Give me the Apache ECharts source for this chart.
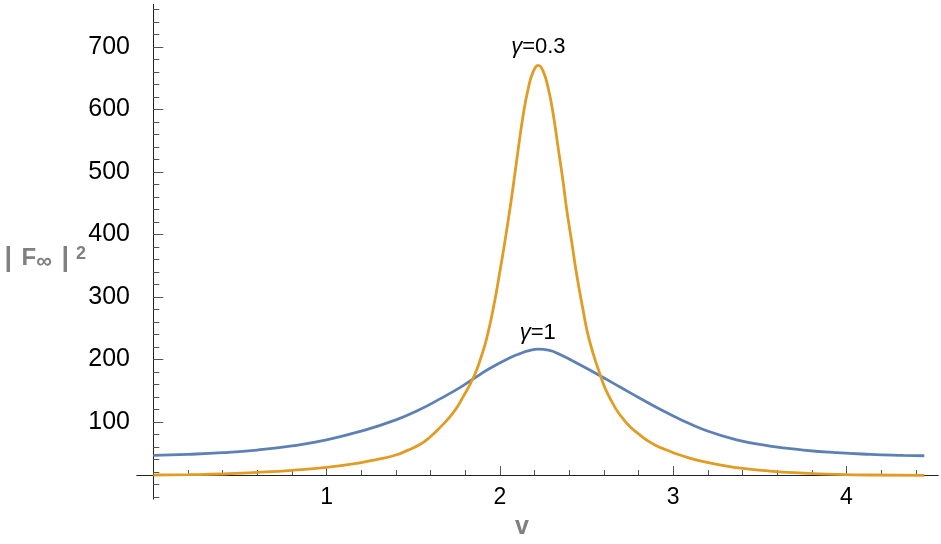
<!DOCTYPE html>
<html>
<head>
<meta charset="utf-8">
<script src="https://cdn.jsdelivr.net/npm/echarts@6/dist/echarts.min.js"></script>
<style>
  html, body { margin: 0; padding: 0; background: #fff; }
  #chart { width: 941px; height: 544px; }
</style>
</head>
<body>
<div id="chart"></div>
<script>
// γ = 1 curve (blue)
const blueV = [0, 0.2, 0.4, 0.6, 0.8, 1.0, 1.2, 1.4, 1.538, 1.654, 1.769, 1.852, 1.943, 2.058, 2.116, 2.174, 2.222, 2.28, 2.347, 2.462, 2.578, 2.693, 2.808, 2.924, 3.039, 3.174, 3.366, 3.558, 3.751, 3.943, 4.136, 4.328, 4.449];
const blueF = [46.7, 48.3, 50.9, 55.2, 61.8, 71.5, 85.5, 103.5, 120, 137, 155, 170, 186, 203, 209.5, 214.5, 216.5, 215, 208, 191.5, 174, 156, 138, 120.5, 104.5, 88, 71.5, 61.6, 55.2, 50.9, 48.3, 46.7, 46];

// γ = 0.3 curve (orange)
const orangeV = [0, 0.2, 0.4, 0.6, 0.8, 1.0, 1.2, 1.3, 1.4, 1.47, 1.538, 1.597, 1.654, 1.731, 1.789, 1.852, 1.894, 1.924, 1.962, 1.997, 2.029, 2.058, 2.083, 2.106, 2.135, 2.164, 2.193, 2.222, 2.25, 2.279, 2.308, 2.337, 2.362, 2.385, 2.414, 2.443, 2.478, 2.516, 2.578, 2.616, 2.674, 2.71, 2.751, 2.8, 2.847, 2.9, 2.962, 3.039, 3.174, 3.366, 3.558, 3.751, 3.943, 4.136, 4.449];
const orangeF = [15.2, 15.7, 16.8, 19.4, 22.8, 27.6, 35.2, 40.5, 47.2, 55, 64, 76, 91, 115, 141, 174, 206, 234, 282, 336, 389, 441, 490, 537, 592, 634, 661, 670.5, 661, 634, 592, 537, 490, 441, 389, 336, 282, 231, 176, 148.5, 119, 105.5, 92.5, 81, 71.2, 62.5, 55.2, 47.2, 36.5, 27, 21.6, 18.4, 16.3, 15.2, 14.7];

// ticks
const xMajorTicks = [1, 2, 3, 4];
const xMinorTicks = [0.2, 0.4, 0.6, 0.8, 1.2, 1.4, 1.6, 1.8, 2.2, 2.4, 2.6, 2.8, 3.2, 3.4, 3.6, 3.8, 4.2, 4.4];
const yMajorTicks = [100, 200, 300, 400, 500, 600, 700];
const yMinorTicks = [-20, 0, 20, 40, 60, 80, 120, 140, 160, 180, 220, 240, 260, 280, 320, 340, 360, 380, 420, 440, 460, 480, 520, 540, 560, 580, 620, 640, 660, 680, 720, 740, 760];

const FONT = "'Liberation Sans', Arial, sans-serif";
const X_MIN = -0.094, X_MAX = 4.528;
const Y_MIN = -23, Y_MAX = 768;
const GREY = '#808080';

const pairs = (xs, ys) => xs.map((x, i) => [x, ys[i]]);

const chart = echarts.init(document.getElementById('chart'));

const xAxisBase = {
  type: 'value',
  min: X_MIN,
  max: X_MAX,
  position: 'bottom',
  offset: -23.9,
  splitLine: { show: false },
  axisLine: { onZero: false, lineStyle: { color: '#222', width: 1 } }
};
const yAxisBase = {
  type: 'value',
  min: Y_MIN,
  max: Y_MAX,
  position: 'left',
  splitLine: { show: false },
  axisLine: { onZero: true, lineStyle: { color: '#222', width: 1 } }
};

const gammaLabel = (txt) => ({
  show: true,
  position: 'inside',
  formatter: '{i|γ}{n|' + txt + '}',
  rich: {
    i: { fontStyle: 'italic', fontSize: 22, color: '#000', fontFamily: FONT },
    n: { fontSize: 22, color: '#000', fontFamily: FONT }
  }
});

const option = {
  animation: false,
  backgroundColor: '#fff',
  grid: { left: 137, right: 3, top: 4.5, bottom: 45.1, containLabel: false, outerBoundsMode: 'none' },
  xAxis: [
    Object.assign({}, xAxisBase, {
      axisTick: { inside: true, length: 9, customValues: xMajorTicks, lineStyle: { color: '#555' } },
      axisLabel: { customValues: xMajorTicks, color: '#000', fontSize: 23, fontFamily: FONT, margin: 11 },
      name: 'v',
      nameLocation: 'middle',
      nameGap: 40,
      nameTextStyle: { color: GREY, fontWeight: 'bold', fontSize: 25, fontFamily: FONT, padding: [0, 31, 0, 0] }
    }),
    Object.assign({}, xAxisBase, {
      axisTick: { inside: true, length: 5, customValues: xMinorTicks, lineStyle: { color: '#555' } },
      axisLabel: { show: false }
    })
  ],
  yAxis: [
    Object.assign({}, yAxisBase, {
      axisTick: { inside: true, length: 10, customValues: yMajorTicks, lineStyle: { color: '#555' } },
      axisLabel: { customValues: yMajorTicks, color: '#000', fontSize: 25, fontFamily: FONT, margin: 7 },
      name: '{bar|| }{f|F}{s|∞}{bar| |}{p|2}',
      nameLocation: 'middle',
      nameRotate: 0,
      nameGap: 51,
      nameMoveOverlap: false,
      nameTextStyle: {
        align: 'right',
        verticalAlign: 'middle',
        padding: [14, 0, 0, 0],
        rich: {
          bar: { color: GREY, fontWeight: 'bold', fontSize: 27, fontFamily: FONT, lineHeight: 28, verticalAlign: 'middle', padding: [0, 2, 0, 2] },
          f: { color: GREY, fontWeight: 'bold', fontSize: 24, fontFamily: FONT, lineHeight: 28, verticalAlign: 'middle' },
          s: { color: GREY, fontWeight: 'bold', fontSize: 22, fontFamily: FONT, lineHeight: 17, verticalAlign: 'bottom' },
          p: { color: GREY, fontWeight: 'bold', fontSize: 18, fontFamily: FONT, lineHeight: 14, verticalAlign: 'top', padding: [0, 0, 0, 5] }
        }
      }
    }),
    Object.assign({}, yAxisBase, {
      axisTick: { inside: true, length: 6, customValues: yMinorTicks, lineStyle: { color: '#555' } },
      axisLabel: { show: false }
    })
  ],
  series: [
    {
      name: 'γ=1',
      type: 'line',
      data: pairs(blueV, blueF),
      showSymbol: false,
      smooth: 0.5,
      lineStyle: { color: '#5E81B5', width: 2.8 },
      markPoint: { symbolSize: 0, label: gammaLabel('=1'), data: [{ coord: [2.218, 243] }] }
    },
    {
      name: 'γ=0.3',
      type: 'line',
      data: pairs(orangeV, orangeF),
      showSymbol: false,
      smooth: 0.5,
      lineStyle: { color: '#E19C24', width: 2.8 },
      markPoint: { symbolSize: 0, label: gammaLabel('=0.3'), data: [{ coord: [2.222, 700] }] }
    }
  ]
};

chart.setOption(option);
</script>
</body>
</html>
